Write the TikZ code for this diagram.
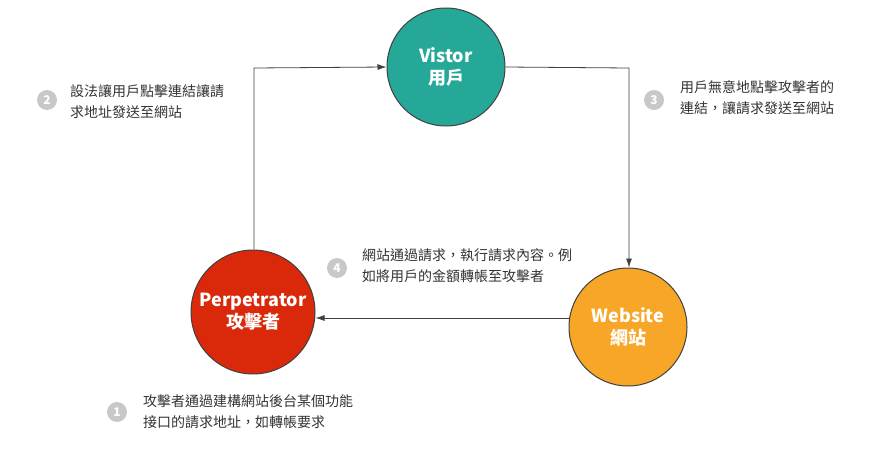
\documentclass[tikz,border=0pt]{standalone}
\usepackage{fontspec}
\setmainfont{Noto Sans CJK TC}
\usetikzlibrary{arrows.meta}
\definecolor{visitc}{RGB}{38,168,152}
\definecolor{perpc}{RGB}{218,40,10}
\definecolor{webc}{RGB}{247,166,40}
\definecolor{badgec}{RGB}{200,200,200}
\tikzset{
  actor/.style={circle,draw=black!75,line width=1pt,minimum size=#1,
                text=white,font=\fontsize{18}{22}\selectfont\bfseries,align=center},
  badge/.style={circle,fill=badgec,text=white,minimum size=20pt,inner sep=0pt,
                font=\fontsize{12}{12}\selectfont\bfseries},
  note/.style={anchor=west,align=left,text=black!80,inner sep=0pt,
               font=\fontsize{14}{21}\selectfont},
  flow/.style={draw=black!75,line width=0.8pt,-{Latex[length=9pt,width=6pt]}}
}
\begin{document}
\begin{tikzpicture}[x=1pt,y=-1pt]
  \useasboundingbox (0,0) rectangle (881,463);

  \node[actor=118pt,fill=visitc]  (V) at (446,67)  {Vistor\\用戶};
  \node[actor=124pt,fill=perpc]   (P) at (253,312) {Perpetrator\\攻擊者};
  \node[actor=118pt,fill=webc]    (W) at (628,327) {Website\\網站};

  \coordinate (pv) at (254,68);
  \coordinate (vw) at (629,68);

  \draw[flow] (P.north -| pv) -- (pv) -- (V.west);
  \draw[flow] (V.east) -- (vw) -- (W.north -| vw);
  \draw[flow] (W.west |- 0,318) -- (P.east |- 0,318);

  \node[badge] (b2) at (47,100) {2};
  \node[note]  (n2) at (70,102) {設法讓用戶點擊連結讓請\\求地址發送至網站};
  \node[badge] (b3) at (654,100) {3};
  \node[note]  (n3) at (680,98) {用戶無意地點擊攻擊者的\\連結，讓請求發送至網站};
  \node[badge] (b4) at (337,268) {4};
  \node[note]  (n4) at (362,266) {網站通過請求，執行請求內容。例\\如將用戶的金額轉帳至攻擊者};
  \node[badge] (b1) at (117,412) {1};
  \node[note]  (n1) at (143,412) {攻擊者通過建構網站後台某個功能\\接口的請求地址，如轉帳要求};
\end{tikzpicture}
\end{document}
